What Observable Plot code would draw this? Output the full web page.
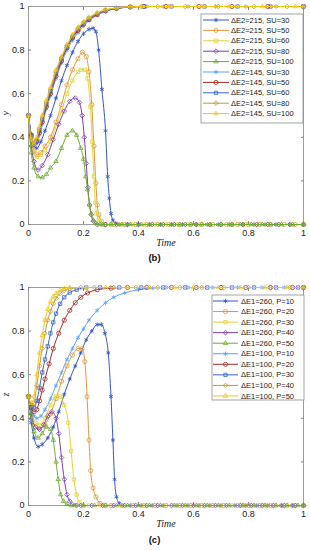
<!DOCTYPE html>
<html><head><meta charset="utf-8">
<script src="https://cdn.jsdelivr.net/npm/d3@7"></script>
<script src="https://cdn.jsdelivr.net/npm/@observablehq/plot@0.6"></script>
<style>
body{margin:0;background:#fff;}
#chart{width:310px;height:550px;}
svg{display:block;}
</style></head><body><div id="chart"></div>
<script>
const FONT = "Liberation Sans, Arial, sans-serif";
const SERIF = "Liberation Serif, Times New Roman, serif";
const xTicks = [0, 0.2, 0.4, 0.6, 0.8, 1];
const yTicks = [0, 0.2, 0.4, 0.6, 0.8, 1];
const colors = ["#3557c4","#e0963a","#e3d232","#7d3bb5","#70ab32","#5fa4f2","#a52a2a","#3964c8","#bf9a2f","#f2c418"];
const symbols = ["asterisk","circle","square2","diamond2","triangle2","asterisk","circle","square2","diamond2","triangle2"];
const labelsB = ["ΔE2=215, SU=30","ΔE2=215, SU=50","ΔE2=215, SU=60","ΔE2=215, SU=80","ΔE2=215, SU=100","ΔE2=145, SU=30","ΔE2=145, SU=50","ΔE2=145, SU=60","ΔE2=145, SU=80","ΔE2=145, SU=100"];
const labelsC = ["ΔE1=260, P=10","ΔE1=260, P=20","ΔE1=260, P=30","ΔE1=260, P=40","ΔE1=260, P=50","ΔE1=100, P=10","ΔE1=100, P=20","ΔE1=100, P=30","ΔE1=100, P=40","ΔE1=100, P=50"];

// Panel (b): y over Time
const b215_30 = [[0,0.5],[0.01,0.41],[0.02,0.36],[0.03,0.35],[0.045,0.38],[0.06,0.43],[0.08,0.5],[0.1,0.58],[0.12,0.66],[0.14,0.73],[0.16,0.79],[0.18,0.84],[0.2,0.875],[0.22,0.895],[0.235,0.9],[0.245,0.885],[0.255,0.8],[0.267,0.62],[0.28,0.43],[0.288,0.22],[0.294,0.12],[0.3,0.05],[0.307,0.02],[0.317,0.005],[0.33,0],[0.36,0],[0.4,0],[0.44,0],[0.48,0],[0.52,0],[0.56,0],[0.61,0],[0.65,0],[0.69,0],[0.73,0],[0.78,0],[0.82,0],[0.86,0],[0.9,0],[0.95,0],[1,0]];
const b215_50 = [[0,0.5],[0.01,0.4],[0.02,0.34],[0.03,0.32],[0.045,0.33],[0.06,0.36],[0.08,0.4],[0.1,0.47],[0.12,0.55],[0.14,0.64],[0.16,0.71],[0.18,0.76],[0.196,0.79],[0.21,0.77],[0.22,0.7],[0.23,0.55],[0.238,0.36],[0.245,0.19],[0.25,0.09],[0.256,0.045],[0.265,0.015],[0.28,0],[0.31,0],[0.35,0],[0.39,0],[0.43,0],[0.47,0],[0.51,0],[0.55,0],[0.59,0],[0.63,0],[0.67,0],[0.72,0],[0.76,0],[0.8,0],[0.84,0],[0.88,0],[0.93,0],[0.97,0],[1,0]];
const b215_60 = [[0,0.5],[0.01,0.39],[0.02,0.33],[0.03,0.31],[0.045,0.32],[0.06,0.34],[0.08,0.38],[0.1,0.45],[0.12,0.52],[0.14,0.6],[0.16,0.66],[0.18,0.7],[0.19,0.71],[0.205,0.71],[0.215,0.67],[0.225,0.54],[0.232,0.38],[0.238,0.22],[0.243,0.1],[0.248,0.05],[0.256,0.02],[0.27,0],[0.3,0],[0.33,0],[0.38,0],[0.42,0],[0.46,0],[0.5,0],[0.54,0],[0.58,0],[0.62,0],[0.66,0],[0.7,0],[0.74,0],[0.79,0],[0.83,0],[0.87,0],[0.91,0],[0.96,0],[1,0]];
const b215_80 = [[0,0.5],[0.01,0.36],[0.02,0.29],[0.035,0.25],[0.05,0.27],[0.07,0.32],[0.09,0.39],[0.11,0.46],[0.13,0.52],[0.15,0.565],[0.17,0.58],[0.185,0.56],[0.195,0.5],[0.203,0.4],[0.21,0.28],[0.216,0.17],[0.222,0.09],[0.228,0.045],[0.236,0.015],[0.25,0],[0.28,0],[0.32,0],[0.36,0],[0.4,0],[0.45,0],[0.49,0],[0.53,0],[0.57,0],[0.61,0],[0.66,0],[0.7,0],[0.74,0],[0.78,0],[0.83,0],[0.87,0],[0.91,0],[0.95,0],[1,0]];
const b215_100 = [[0,0.5],[0.01,0.33],[0.02,0.26],[0.035,0.22],[0.05,0.215],[0.065,0.23],[0.08,0.26],[0.1,0.29],[0.12,0.35],[0.14,0.41],[0.16,0.43],[0.175,0.41],[0.19,0.35],[0.2,0.3],[0.208,0.22],[0.215,0.16],[0.222,0.09],[0.228,0.05],[0.235,0.02],[0.245,0.005],[0.26,0],[0.27,0],[0.3,0],[0.34,0],[0.37,0],[0.41,0],[0.44,0],[0.48,0],[0.52,0],[0.55,0],[0.59,0],[0.63,0],[0.66,0],[0.7,0],[0.74,0],[0.77,0],[0.81,0],[0.85,0],[0.88,0],[0.92,0],[0.96,0],[1,0]];
const b145_30 = [[0,0.5],[0.01,0.41],[0.02,0.37],[0.03,0.37],[0.04,0.41],[0.05,0.46],[0.065,0.53],[0.08,0.59],[0.1,0.67],[0.12,0.74],[0.14,0.8],[0.16,0.845],[0.18,0.88],[0.2,0.91],[0.22,0.935],[0.25,0.96],[0.28,0.977],[0.32,0.99],[0.37,0.997],[0.43,1],[0.49,1],[0.58,1],[0.68,1],[0.79,1],[0.9,1],[1,1]];
const b145_50 = [[0,0.5],[0.01,0.41],[0.02,0.37],[0.03,0.38],[0.04,0.42],[0.05,0.47],[0.065,0.54],[0.08,0.6],[0.1,0.68],[0.12,0.75],[0.14,0.81],[0.16,0.855],[0.18,0.89],[0.2,0.918],[0.22,0.94],[0.25,0.963],[0.28,0.98],[0.32,0.991],[0.37,0.998],[0.42,1],[0.5,1],[0.62,1],[0.74,1],[0.87,1],[1,1]];
const b145_60 = [[0,0.5],[0.01,0.41],[0.02,0.37],[0.03,0.385],[0.04,0.43],[0.05,0.48],[0.065,0.55],[0.08,0.61],[0.1,0.69],[0.12,0.76],[0.14,0.815],[0.16,0.86],[0.18,0.895],[0.2,0.922],[0.22,0.945],[0.25,0.967],[0.28,0.982],[0.32,0.992],[0.37,0.998],[0.42,1],[0.52,1],[0.64,1],[0.76,1],[0.88,1],[1,1]];
const b145_80 = [[0,0.5],[0.01,0.4],[0.02,0.37],[0.03,0.39],[0.04,0.44],[0.05,0.49],[0.065,0.56],[0.08,0.62],[0.1,0.7],[0.12,0.765],[0.14,0.82],[0.16,0.865],[0.18,0.9],[0.2,0.926],[0.22,0.948],[0.25,0.97],[0.28,0.984],[0.32,0.993],[0.37,0.998],[0.41,1],[0.47,1],[0.57,1],[0.69,1],[0.82,1],[0.94,1],[1,1]];
const b145_100 = [[0,0.5],[0.01,0.39],[0.02,0.37],[0.03,0.4],[0.04,0.45],[0.05,0.5],[0.065,0.57],[0.08,0.63],[0.1,0.71],[0.12,0.77],[0.14,0.825],[0.16,0.87],[0.18,0.905],[0.2,0.93],[0.22,0.95],[0.25,0.972],[0.28,0.985],[0.32,0.994],[0.37,0.999],[0.41,1],[0.51,1],[0.63,1],[0.73,1],[0.85,1],[0.97,1],[1,1]];

// Panel (c): z over Time
const c260_10 = [[0,0.5],[0.01,0.38],[0.02,0.31],[0.035,0.27],[0.05,0.28],[0.07,0.31],[0.09,0.36],[0.11,0.43],[0.13,0.51],[0.15,0.58],[0.17,0.64],[0.19,0.7],[0.21,0.76],[0.23,0.8],[0.25,0.83],[0.265,0.83],[0.278,0.79],[0.29,0.7],[0.3,0.5],[0.307,0.3],[0.313,0.12],[0.32,0.04],[0.33,0.01],[0.34,0],[0.37,0],[0.41,0],[0.45,0],[0.49,0],[0.54,0],[0.58,0],[0.62,0],[0.66,0],[0.7,0],[0.75,0],[0.79,0],[0.83,0],[0.87,0],[0.92,0],[0.96,0],[1,0]];
const c260_20 = [[0,0.5],[0.01,0.42],[0.025,0.36],[0.04,0.35],[0.06,0.37],[0.08,0.42],[0.1,0.49],[0.12,0.57],[0.14,0.64],[0.16,0.69],[0.18,0.72],[0.195,0.72],[0.205,0.66],[0.213,0.5],[0.22,0.3],[0.226,0.16],[0.235,0.08],[0.245,0.04],[0.26,0.01],[0.28,0],[0.3,0],[0.34,0],[0.38,0],[0.42,0],[0.46,0],[0.5,0],[0.55,0],[0.59,0],[0.63,0],[0.67,0],[0.71,0],[0.76,0],[0.8,0],[0.84,0],[0.88,0],[0.92,0],[0.96,0],[1,0]];
const c260_30 = [[0,0.5],[0.01,0.43],[0.025,0.38],[0.04,0.37],[0.06,0.4],[0.08,0.46],[0.1,0.5],[0.115,0.5],[0.13,0.46],[0.145,0.38],[0.155,0.25],[0.165,0.12],[0.175,0.05],[0.185,0.015],[0.2,0],[0.22,0],[0.26,0],[0.3,0],[0.34,0],[0.38,0],[0.42,0],[0.46,0],[0.5,0],[0.54,0],[0.58,0],[0.62,0],[0.66,0],[0.7,0],[0.74,0],[0.78,0],[0.82,0],[0.86,0],[0.9,0],[0.94,0],[0.97,0],[1,0]];
const c260_40 = [[0,0.5],[0.01,0.42],[0.025,0.36],[0.04,0.35],[0.055,0.37],[0.07,0.41],[0.085,0.43],[0.1,0.4],[0.11,0.33],[0.12,0.22],[0.13,0.12],[0.14,0.05],[0.15,0.02],[0.16,0.005],[0.175,0],[0.19,0],[0.23,0],[0.27,0],[0.31,0],[0.35,0],[0.39,0],[0.43,0],[0.47,0],[0.52,0],[0.56,0],[0.6,0],[0.64,0],[0.68,0],[0.72,0],[0.77,0],[0.81,0],[0.85,0],[0.89,0],[0.93,0],[0.97,0],[1,0]];
const c260_50 = [[0,0.5],[0.01,0.4],[0.02,0.34],[0.035,0.31],[0.05,0.33],[0.065,0.36],[0.08,0.35],[0.09,0.3],[0.1,0.2],[0.108,0.12],[0.117,0.05],[0.127,0.02],[0.14,0.005],[0.155,0],[0.17,0],[0.2,0],[0.24,0],[0.28,0],[0.32,0],[0.36,0],[0.4,0],[0.44,0],[0.48,0],[0.53,0],[0.57,0],[0.61,0],[0.65,0],[0.69,0],[0.73,0],[0.78,0],[0.82,0],[0.86,0],[0.9,0],[0.94,0],[0.98,0],[1,0]];
const c100_10 = [[0,0.5],[0.01,0.44],[0.02,0.41],[0.03,0.4],[0.045,0.41],[0.06,0.44],[0.08,0.49],[0.1,0.55],[0.12,0.61],[0.14,0.67],[0.16,0.72],[0.18,0.77],[0.2,0.81],[0.22,0.85],[0.25,0.895],[0.28,0.93],[0.31,0.955],[0.35,0.975],[0.4,0.99],[0.45,0.997],[0.5,1],[0.58,1],[0.67,1],[0.76,1],[0.85,1],[0.93,1],[1,1]];
const c100_20 = [[0,0.5],[0.01,0.45],[0.02,0.43],[0.03,0.44],[0.04,0.48],[0.05,0.53],[0.06,0.58],[0.075,0.65],[0.09,0.72],[0.11,0.79],[0.13,0.85],[0.15,0.895],[0.17,0.93],[0.19,0.955],[0.215,0.975],[0.25,0.99],[0.3,0.997],[0.36,1],[0.43,1],[0.52,1],[0.61,1],[0.7,1],[0.79,1],[0.88,1],[0.96,1],[1,1]];
const c100_30 = [[0,0.5],[0.01,0.46],[0.02,0.45],[0.03,0.48],[0.04,0.54],[0.05,0.61],[0.06,0.67],[0.07,0.73],[0.08,0.79],[0.09,0.84],[0.1,0.88],[0.115,0.925],[0.13,0.955],[0.15,0.977],[0.175,0.99],[0.21,1],[0.26,1],[0.33,1],[0.41,1],[0.49,1],[0.57,1],[0.65,1],[0.74,1],[0.82,1],[0.9,1],[0.98,1],[1,1]];
const c100_40 = [[0,0.5],[0.01,0.46],[0.02,0.47],[0.03,0.55],[0.04,0.64],[0.05,0.72],[0.06,0.79],[0.07,0.85],[0.08,0.89],[0.09,0.925],[0.1,0.95],[0.115,0.972],[0.13,0.986],[0.15,0.995],[0.19,1],[0.24,1],[0.31,1],[0.39,1],[0.47,1],[0.55,1],[0.63,1],[0.71,1],[0.8,1],[0.88,1],[0.95,1],[1,1]];
const c100_50 = [[0,0.5],[0.01,0.47],[0.02,0.5],[0.03,0.6],[0.04,0.7],[0.05,0.78],[0.06,0.85],[0.07,0.9],[0.08,0.935],[0.09,0.958],[0.1,0.973],[0.115,0.987],[0.13,0.995],[0.15,1],[0.21,1],[0.28,1],[0.36,1],[0.44,1],[0.53,1],[0.6,1],[0.69,1],[0.77,1],[0.86,1],[0.94,1],[1,1]];

const seriesB = [b215_30,b215_50,b215_60,b215_80,b215_100,b145_30,b145_50,b145_60,b145_80,b145_100];
const seriesC = [c260_10,c260_20,c260_30,c260_40,c260_50,c100_10,c100_20,c100_30,c100_40,c100_50];

function panel(series, opts) {
  const marks = [];
  series.forEach((s, i) => {
    marks.push(Plot.line(s, {x: d => d[0], y: d => d[1], stroke: colors[i], strokeWidth: 1, curve: "monotone-x"}));
    marks.push(Plot.dot(s, {x: d => d[0], y: d => d[1], stroke: colors[i], fill: "none", symbol: symbols[i], r: 2.1, strokeWidth: 0.8}));
  });
  const axisColor = "#858585";
  const fmt = d => String(d);
  return Plot.plot({
    width: 310, height: opts.height,
    marginLeft: 28, marginRight: 7, marginTop: opts.mt, marginBottom: opts.mb,
    x: {domain: [0, 1]}, y: {domain: [0, 1]},
    style: {fontFamily: FONT, fontSize: "9px", background: "white", overflow: "visible"},
    marks: [
      Plot.frame({stroke: axisColor, strokeWidth: 0.8}),
      Plot.axisX({ticks: xTicks, tickFormat: fmt, tickSize: -3, tickPadding: 8.5, stroke: axisColor, fill: "#222", label: null}),
      Plot.axisX({anchor: "top", ticks: xTicks, tickSize: -3, stroke: axisColor, tickFormat: () => "", label: null}),
      Plot.axisY({ticks: yTicks, tickFormat: fmt, tickSize: -3, tickPadding: 7, stroke: axisColor, fill: "#222", label: null}),
      Plot.axisY({anchor: "right", ticks: yTicks, tickSize: -3, stroke: axisColor, tickFormat: () => "", label: null}),
      ...marks,
      Plot.text([opts.ylabel], {text: d => d, frameAnchor: "left", dx: -23, rotate: -90, fontStyle: "italic", fontFamily: SERIF, fontSize: 10, fill: "#222"}),
      Plot.text(["Time"], {text: d => d, frameAnchor: "bottom", dy: 21, fontStyle: "italic", fontFamily: SERIF, fontSize: 10, fill: "#222"}),
      Plot.text([opts.tag], {text: d => d, frameAnchor: "bottom", dx: -11.5, dy: opts.tagDy, fontWeight: "bold", fontSize: 9.5, fill: "#111"})
    ]
  });
}

const symbolMap = {asterisk: d3.symbolAsterisk, circle: d3.symbolCircle, square2: d3.symbolSquare2, diamond2: d3.symbolDiamond2, triangle2: d3.symbolTriangle2};

function legend(svg, labels, box) {
  const g = d3.select(svg).append("g").attr("font-family", FONT).attr("font-size", 7.5).attr("text-anchor", "start");
  g.append("rect").attr("x", box.x).attr("y", box.y).attr("width", box.w).attr("height", box.h)
    .attr("fill", "white").attr("stroke", "#8c8c8c").attr("stroke-width", 0.8);
  labels.forEach((lab, i) => {
    const cy = box.y0 + i * box.dy;
    g.append("line").attr("x1", box.l1).attr("x2", box.l2).attr("y1", cy).attr("y2", cy)
      .attr("stroke", colors[i]).attr("stroke-width", 1);
    g.append("path").attr("transform", `translate(${(box.l1 + box.l2) / 2},${cy})`)
      .attr("d", d3.symbol(symbolMap[symbols[i]], 2.1 * 2.1 * Math.PI)())
      .attr("fill", "none").attr("stroke", colors[i]).attr("stroke-width", 0.8);
    g.append("text").attr("x", box.tx).attr("y", cy).attr("dy", "0.35em").attr("text-anchor", "start").attr("fill", "#1a1a1a").text(lab);
  });
}

const chart = document.getElementById("chart");
const pb = panel(seriesB, {height: 268, mt: 6, mb: 44, ylabel: "y", tag: "(b)", tagDy: 36});
chart.appendChild(pb);
legend(pb, labelsB, {x: 201, y: 14, w: 102, h: 109, y0: 20, dy: 10.4, l1: 203, l2: 229, tx: 231});
const pc = panel(seriesC, {height: 282, mt: 19, mb: 45, ylabel: "z", tag: "(c)", tagDy: 37});
chart.appendChild(pc);
legend(pc, labelsC, {x: 212, y: 27, w: 92, h: 105, y0: 33, dy: 10.55, l1: 213, l2: 238, tx: 241});
</script></body></html>
